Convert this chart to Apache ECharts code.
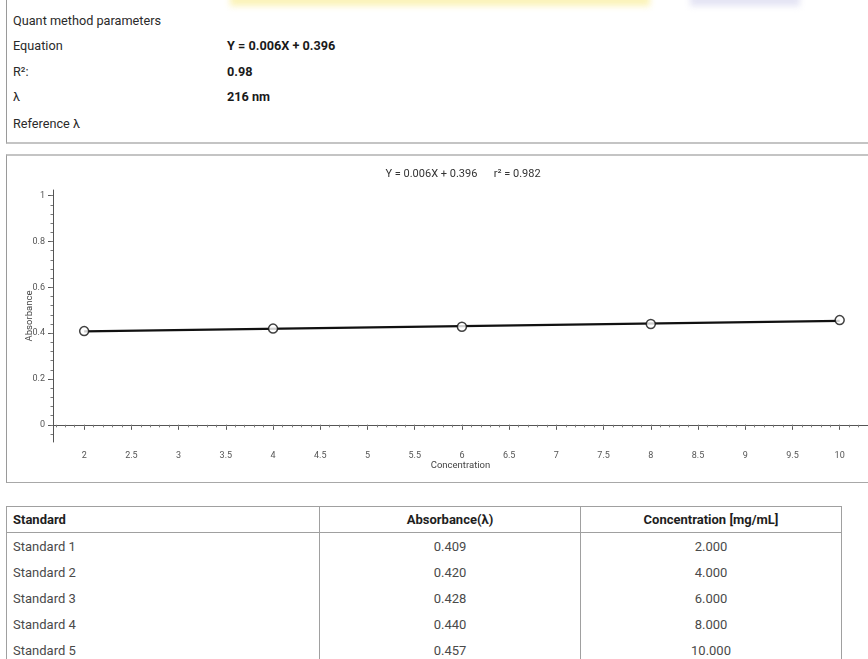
<!DOCTYPE html>
<html>
<head>
<meta charset="utf-8">
<script src="https://cdn.jsdelivr.net/npm/echarts@6/dist/echarts.min.js"></script>
<style>
  html, body { margin:0; padding:0; background:#fff; width:868px; height:659px; overflow:hidden; font-family: Roboto, "Noto Sans", sans-serif; }
  #params { position:absolute; left:6px; top:0; width:870px; height:142px; border-left:1.5px solid #9a9a9a; border-bottom:2px solid #c4c4c4; }
  .wm { position:absolute; top:-6px; height:12px; filter:blur(3px); }
  .prow { position:absolute; left:6px; font-size:12.7px; color:#2a2a2a; line-height:16px; }
  .pval { position:absolute; left:220px; font-size:12.7px; font-weight:bold; color:#1a1a1a; line-height:16px; }
  #chartbox { position:absolute; left:6px; top:154px; width:870px; height:326px; border-left:1.5px solid #9a9a9a; border-top:2px solid #c4c4c4; border-bottom:1.5px solid #a8a8a8; }
  #chart { position:absolute; left:0; top:0; width:868px; height:659px; z-index:2; }
  #tbl { position:absolute; left:6px; top:506px; border-collapse:collapse; font-size:13px; border:1.5px solid #a0a0a0; border-bottom:none; }
  #tbl th { font-weight:bold; color:#1e1e1e; height:25px; padding:0 6px; border-bottom:1.5px solid #a0a0a0; border-left:1.5px solid #a0a0a0; }
  #tbl td { color:#4a4a4a; height:26px; padding:0 6px; border-left:1.5px solid #a0a0a0; }
</style>
</head>
<body>
<div class="wm" style="left:230px;width:420px;background:#fbf3b8;"></div>
<div class="wm" style="left:690px;width:110px;background:#e4e4f4;"></div>
<div id="params"></div>
<div id="chartbox"></div>
<table id="tbl"></table>
<div id="chart"></div>
<script>
// ---- data ----
const paramTitle = 'Quant method parameters';
const paramLabels = ['Equation', 'R²:', 'λ', 'Reference λ'];
const paramValues = ['Y = 0.006X + 0.396', '0.98', '216 nm', ''];

const standards = ['Standard 1', 'Standard 2', 'Standard 3', 'Standard 4', 'Standard 5'];
const concentration = [2, 4, 6, 8, 10];
const absorbance = [0.409, 0.420, 0.428, 0.440, 0.457];
const tableHeaders = ['Standard', 'Absorbance(λ)', 'Concentration [mg/mL]'];

// regression line endpoints
const fitX = [2, 10];
const fitY = [0.408, 0.454];

const chartTitle = 'Y = 0.006X + 0.396      r² = 0.982';
const xName = 'Concentration';
const yName = 'Absorbance';
const xMajorTicks = [2, 2.5, 3, 3.5, 4, 4.5, 5, 5.5, 6, 6.5, 7, 7.5, 8, 8.5, 9, 9.5, 10];
const yMajorTicks = [0, 0.2, 0.4, 0.6, 0.8, 1];

// ---- parameter panel ----
const params = document.getElementById('params');
const rowTops = [13, 38, 64, 89, 116];
function addDiv(parent, cls, text, top) {
  const d = document.createElement('div');
  d.className = cls; d.textContent = text; d.style.top = top + 'px';
  parent.appendChild(d);
}
addDiv(params, 'prow', paramTitle, rowTops[0]);
paramLabels.forEach((l, i) => {
  addDiv(params, 'prow', l, rowTops[i + 1]);
  if (paramValues[i]) addDiv(params, 'pval', paramValues[i], rowTops[i + 1]);
});

// ---- table ----
const tbl = document.getElementById('tbl');
const colW = [312, 260, 260];
let html = '<tr>';
tableHeaders.forEach((h, i) => {
  html += '<th style="width:' + (colW[i] - 12) + 'px;text-align:' + (i === 0 ? 'left' : 'center') + (i === 0 ? ';border-left:none' : '') + '">' + h + '</th>';
});
html += '</tr>';
standards.forEach((s, i) => {
  html += '<tr><td style="border-left:none">' + s + '</td><td style="text-align:center">' + absorbance[i].toFixed(3) +
          '</td><td style="text-align:center">' + concentration[i].toFixed(3) + '</td></tr>';
});
tbl.innerHTML = html;

// ---- chart ----
const xMin = 1.67, xMax = 10.3, yMin = -0.075, yMax = 1.025;
const xMinorTicks = [];
for (let v = 17; v <= 103; v++) xMinorTicks.push(v / 10);
const yMinorTicks = [];
for (let v = -1; v <= 25; v++) yMinorTicks.push(Math.round(v * 4) / 100);

const chart = echarts.init(document.getElementById('chart'), null, { renderer: 'canvas' });
const axisColor = '#555';
const labelStyle = { color: '#555', fontSize: 9, fontFamily: 'Roboto' };

chart.setOption({
  backgroundColor: 'transparent',
  animation: false,
  textStyle: { fontFamily: 'Roboto' },
  graphic: [{
    type: 'text', x: 463, y: 174,
    style: { text: chartTitle, fontSize: 11, fill: '#333', fontFamily: 'Roboto', align: 'center', verticalAlign: 'middle' }
  }],
  grid: { left: 53, right: 0, top: 190, bottom: 217, containLabel: false },
  xAxis: [{
    type: 'value', min: xMin, max: xMax, position: 'bottom',
    name: xName, nameLocation: 'middle', nameGap: 19, nameMoveOverlap: false,
    nameTextStyle: { color: '#444', fontSize: 9.5, fontFamily: 'Roboto' },
    axisLine: { show: true, lineStyle: { color: axisColor, width: 1 } },
    axisTick: { show: true, customValues: xMajorTicks, length: 5, lineStyle: { color: axisColor } },
    axisLabel: Object.assign({ customValues: xMajorTicks, margin: 9 }, labelStyle),
    splitLine: { show: false }
  }, {
    type: 'value', min: xMin, max: xMax, position: 'bottom', offset: 0,
    axisLine: { show: false },
    axisTick: { show: true, customValues: xMinorTicks, length: 2.5, lineStyle: { color: '#777' } },
    axisLabel: { show: false },
    splitLine: { show: false }
  }],
  yAxis: [{
    type: 'value', min: yMin, max: yMax, position: 'left',
    name: yName, nameLocation: 'middle', nameGap: 18, nameRotate: 90, nameMoveOverlap: false,
    nameTextStyle: { color: '#444', fontSize: 9.5, fontFamily: 'Roboto' },
    axisLine: { show: true, lineStyle: { color: axisColor, width: 1 } },
    axisTick: { show: true, customValues: yMajorTicks, length: 5, lineStyle: { color: axisColor } },
    axisLabel: Object.assign({ customValues: yMajorTicks, margin: 8 }, labelStyle),
    splitLine: { show: false }
  }, {
    type: 'value', min: yMin, max: yMax, position: 'left', offset: 0,
    axisLine: { show: false },
    axisTick: { show: true, customValues: yMinorTicks, length: 2.5, lineStyle: { color: '#777' } },
    axisLabel: { show: false },
    splitLine: { show: false }
  }],
  series: [{
    type: 'line', xAxisIndex: 0, yAxisIndex: 0,
    data: fitX.map((x, i) => [x, fitY[i]]),
    showSymbol: false, symbol: 'none',
    lineStyle: { color: '#111', width: 2.2 },
    z: 2
  }, {
    type: 'scatter', xAxisIndex: 0, yAxisIndex: 0,
    data: concentration.map((x, i) => [x, absorbance[i]]),
    symbol: 'circle', symbolSize: 9,
    itemStyle: { color: '#fff', borderColor: '#111', borderWidth: 1.5 },
    z: 3
  }]
});
</script>
</body>
</html>
